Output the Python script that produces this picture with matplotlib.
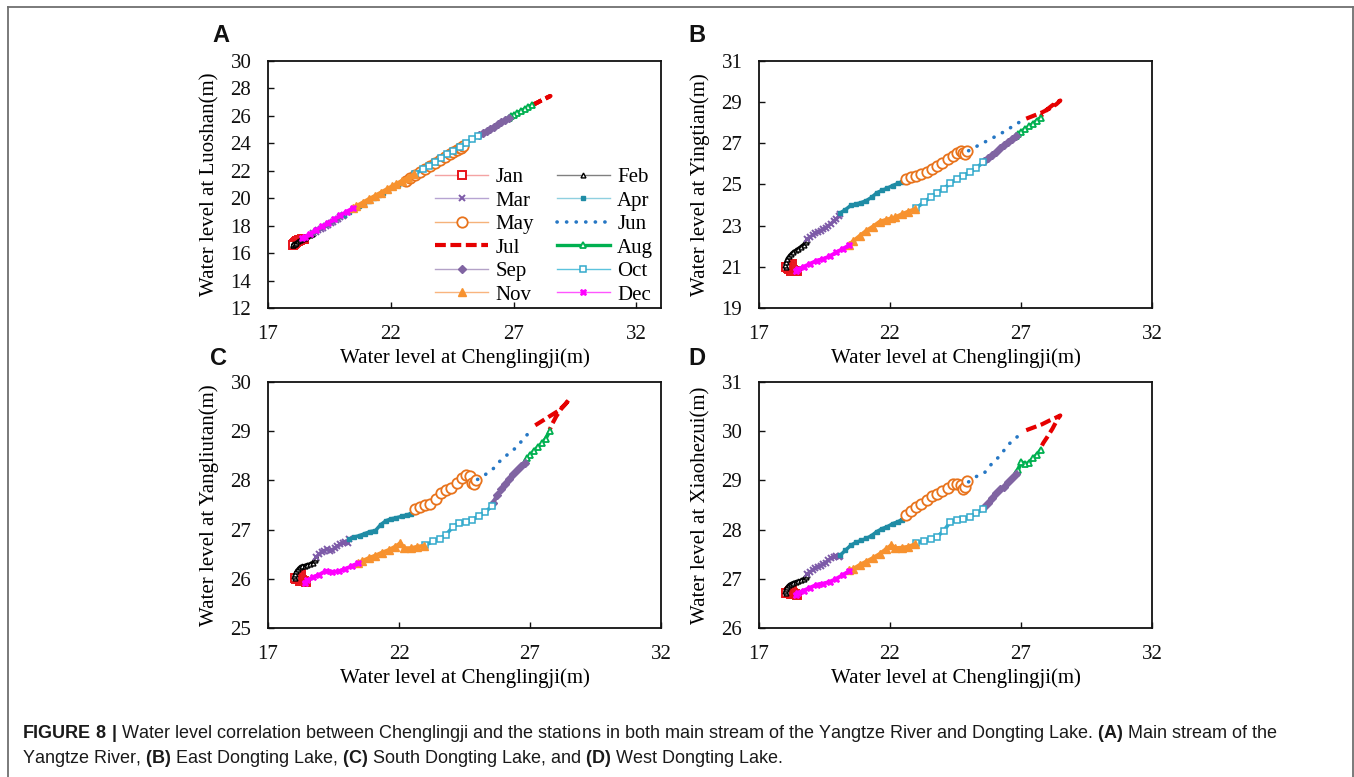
import matplotlib
matplotlib.use('Agg')
import matplotlib.pyplot as plt
from matplotlib.lines import Line2D

plt.rcParams['font.family'] = ['Liberation Serif', 'DejaVu Serif']
plt.rcParams['mathtext.fontset'] = 'custom'
plt.rcParams['mathtext.rm'] = 'Liberation Sans'
plt.rcParams['mathtext.bf'] = 'Liberation Sans:bold'

# ---------------- data ----------------
months = ['Jan', 'Feb', 'Mar', 'Apr', 'May', 'Jun', 'Jul', 'Aug', 'Sep', 'Oct', 'Nov', 'Dec']

# Water level at Chenglingji (x), one list per month
chenglingji = [
    [18.45, 18.38, 18.30, 18.22, 18.15, 18.20, 18.25, 18.18, 18.10, 18.05, 18.02],                       # Jan
    [18.02, 18.00, 18.03, 18.08, 18.15, 18.22, 18.30, 18.40, 18.50, 18.60, 18.70, 18.78, 18.85],         # Feb
    [18.85, 18.95, 19.05, 19.15, 19.25, 19.35, 19.45, 19.55, 19.65, 19.75, 19.85, 19.95, 20.05, 20.10],  # Mar
    [20.10, 20.30, 20.50, 20.70, 20.90, 21.10, 21.30, 21.50, 21.70, 21.90, 22.10, 22.30, 22.45, 22.55],  # Apr
    [22.60, 22.80, 23.00, 23.20, 23.40, 23.60, 23.80, 24.00, 24.20, 24.40, 24.55, 24.70, 24.80, 24.85, 24.95],  # May
    [25.00, 25.30, 25.60, 25.90, 26.20, 26.50, 26.80, 27.10],                                            # Jun
    [27.20, 27.50, 27.80, 28.10, 28.35, 28.50, 28.40, 28.20, 28.00, 27.85, 27.75],                       # Jul
    [27.75, 27.60, 27.45, 27.30, 27.15, 27.00, 26.90, 26.80],                                            # Aug
    [26.80, 26.65, 26.50, 26.35, 26.20, 26.05, 25.90, 25.75, 25.60],                                     # Sep
    [25.55, 25.30, 25.05, 24.80, 24.55, 24.30, 24.05, 23.80, 23.55, 23.30, 23.00],                       # Oct
    [22.95, 22.70, 22.45, 22.20, 22.05, 21.85, 21.60, 21.35, 21.10, 20.85, 20.60, 20.45],                # Nov
    [20.45, 20.20, 19.95, 19.70, 19.45, 19.20, 18.95, 18.70, 18.50, 18.40],                              # Dec
]

# (A) Luoshan
luoshan = [
    [17.05, 17.00, 16.95, 16.88, 16.82, 16.88, 16.95, 16.85, 16.75, 16.68, 16.62],
    [16.58, 16.60, 16.64, 16.70, 16.77, 16.85, 16.93, 17.02, 17.12, 17.22, 17.32, 17.40, 17.48],
    [17.45, 17.55, 17.65, 17.76, 17.86, 17.97, 18.08, 18.18, 18.29, 18.40, 18.50, 18.61, 18.72, 18.77],
    [18.78, 19.00, 19.21, 19.40, 19.60, 19.80, 20.00, 20.20, 20.40, 20.60, 20.79, 20.99, 21.14, 21.24],
    [21.28, 21.48, 21.68, 21.89, 22.11, 22.33, 22.55, 22.76, 22.98, 23.20, 23.36, 23.52, 23.63, 23.69, 23.79],
    [23.90, 24.22, 24.55, 24.86, 25.18, 25.49, 25.80, 26.10],
    [26.20, 26.50, 26.80, 27.10, 27.30, 27.45, 27.38, 27.20, 27.00, 26.88, 26.78],
    [26.80, 26.65, 26.50, 26.36, 26.21, 26.07, 25.97, 25.87],
    [25.85, 25.69, 25.54, 25.38, 25.22, 25.07, 24.91, 24.76, 24.60],
    [24.55, 24.28, 24.00, 23.73, 23.46, 23.19, 22.92, 22.65, 22.38, 22.11, 21.78],
    [21.75, 21.50, 21.26, 21.01, 20.86, 20.66, 20.41, 20.16, 19.92, 19.67, 19.42, 19.27],
    [19.27, 19.02, 18.75, 18.48, 18.21, 17.94, 17.67, 17.40, 17.18, 17.07],
]

# (B) Yingtian
yingtian = [
    [20.78, 20.80, 20.85, 20.82, 20.90, 21.00, 21.15, 21.05, 20.95, 21.00, 20.98],
    [21.00, 21.10, 21.25, 21.40, 21.52, 21.62, 21.72, 21.80, 21.88, 21.98, 22.08, 22.20, 22.32],
    [22.35, 22.45, 22.55, 22.62, 22.70, 22.75, 22.82, 22.90, 23.00, 23.10, 23.22, 23.32, 23.45, 23.58],
    [23.62, 23.78, 23.98, 24.05, 24.12, 24.22, 24.38, 24.60, 24.72, 24.82, 24.95, 25.05, 25.12, 25.20],
    [25.28, 25.35, 25.42, 25.50, 25.60, 25.75, 25.90, 26.05, 26.22, 26.40, 26.55, 26.65, 26.55, 26.50, 26.62],
    [26.64, 26.85, 27.05, 27.25, 27.45, 27.68, 27.92, 28.15],
    [28.20, 28.35, 28.50, 28.70, 28.90, 29.08, 29.00, 28.85, 28.65, 28.45, 28.30],
    [28.25, 28.10, 27.95, 27.82, 27.70, 27.55, 27.45, 27.35],
    [27.35, 27.20, 27.05, 26.90, 26.75, 26.60, 26.45, 26.28, 26.12],
    [26.08, 25.80, 25.60, 25.42, 25.28, 25.05, 24.80, 24.60, 24.38, 24.15, 23.85],
    [23.80, 23.68, 23.55, 23.40, 23.35, 23.28, 23.18, 22.95, 22.75, 22.50, 22.25, 22.08],
    [22.05, 21.88, 21.70, 21.52, 21.38, 21.30, 21.15, 21.00, 20.88, 20.82],
]

# (C) Yangliutan
yangliutan = [
    [25.93, 25.95, 25.98, 25.96, 26.00, 26.05, 26.10, 26.05, 26.02, 26.00, 26.02],
    [26.02, 26.06, 26.10, 26.15, 26.20, 26.24, 26.26, 26.27, 26.29, 26.30, 26.33, 26.38, 26.43],
    [26.45, 26.50, 26.55, 26.57, 26.60, 26.56, 26.58, 26.62, 26.66, 26.70, 26.72, 26.75, 26.73, 26.80],
    [26.80, 26.85, 26.88, 26.92, 26.96, 26.98, 27.10, 27.18, 27.22, 27.24, 27.27, 27.30, 27.32, 27.36],
    [27.42, 27.45, 27.50, 27.53, 27.62, 27.75, 27.80, 27.85, 27.95, 28.05, 28.10, 28.08, 27.95, 27.92, 28.00],
    [28.02, 28.12, 28.24, 28.42, 28.55, 28.68, 28.88, 29.04],
    [29.12, 29.22, 29.32, 29.42, 29.55, 29.65, 29.58, 29.46, 29.30, 29.15, 29.03],
    [29.00, 28.85, 28.75, 28.68, 28.60, 28.52, 28.45, 28.37],
    [28.35, 28.30, 28.22, 28.12, 28.02, 27.93, 27.82, 27.70, 27.55],
    [27.48, 27.36, 27.28, 27.20, 27.15, 27.14, 27.05, 26.90, 26.80, 26.76, 26.68],
    [26.67, 26.65, 26.62, 26.62, 26.72, 26.65, 26.58, 26.53, 26.47, 26.42, 26.36, 26.32],
    [26.32, 26.26, 26.20, 26.15, 26.14, 26.16, 26.08, 26.03, 25.97, 25.92],
]

# (D) Xiaohezui
xiaohezui = [
    [26.68, 26.70, 26.72, 26.70, 26.74, 26.76, 26.80, 26.75, 26.72, 26.72, 26.71],
    [26.72, 26.76, 26.80, 26.84, 26.88, 26.90, 26.92, 26.94, 26.95, 26.97, 27.00, 27.04, 27.08],
    [27.10, 27.14, 27.18, 27.22, 27.25, 27.27, 27.30, 27.33, 27.38, 27.42, 27.45, 27.47, 27.45, 27.46],
    [27.48, 27.58, 27.68, 27.74, 27.78, 27.82, 27.88, 27.96, 28.02, 28.06, 28.12, 28.16, 28.20, 28.26],
    [28.30, 28.38, 28.46, 28.52, 28.60, 28.68, 28.72, 28.78, 28.85, 28.92, 28.93, 28.90, 28.83, 28.86, 28.98],
    [28.97, 29.08, 29.15, 29.35, 29.50, 29.72, 29.86, 30.00],
    [30.02, 30.08, 30.14, 30.22, 30.28, 30.32, 30.25, 30.05, 29.88, 29.76, 29.66],
    [29.62, 29.52, 29.45, 29.36, 29.33, 29.38, 29.22, 29.15],
    [29.12, 29.05, 28.97, 28.87, 28.82, 28.75, 28.64, 28.55, 28.45],
    [28.42, 28.33, 28.26, 28.22, 28.20, 28.15, 27.98, 27.85, 27.80, 27.77, 27.73],
    [27.70, 27.65, 27.63, 27.62, 27.68, 27.60, 27.50, 27.42, 27.35, 27.28, 27.20, 27.17],
    [27.16, 27.08, 27.00, 26.94, 26.90, 26.88, 26.82, 26.76, 26.72, 26.68],
]

station_data = [luoshan, yingtian, yangliutan, xiaohezui]
panel_letters = ['A', 'B', 'C', 'D']
y_labels = ['Water level at Luoshan(m)', 'Water level at Yingtian(m)',
            'Water level at Yangliutan(m)', 'Water level at Xiaohezui(m)']
x_label = 'Water level at Chenglingji(m)'
x_ticks = [17, 22, 27, 32]
x_limits = [(17, 33), (17, 32), (17, 32), (17, 32)]
y_ticks = [[12, 14, 16, 18, 20, 22, 24, 26, 28, 30],
           [19, 21, 23, 25, 27, 29, 31],
           [25, 26, 27, 28, 29, 30],
           [26, 27, 28, 29, 30, 31]]

caption_line1 = (r"$\mathbf{FIGURE\ 8\ |}$ Water level correlation between Chenglingji and the stations in both main "
                 r"stream of the Yangtze River and Dongting Lake. $\mathbf{(A)}$ Main stream of the")
caption_line2 = (r"Yangtze River, $\mathbf{(B)}$ East Dongting Lake, $\mathbf{(C)}$ South Dongting Lake, and "
                 r"$\mathbf{(D)}$ West Dongting Lake.")

# ---------------- styles ----------------
styles = {
    'Jan': dict(color='#E8141B', legc='#F4A3A3', lw=1.0, dlw=1.5, marker='s', ms=6, mfc='white', mew=1.4),
    'Feb': dict(color='#000000', legc='#808080', lw=1.0, dlw=2.5, marker='^', ms=3.5, mfc='white', mew=1.0),
    'Mar': dict(color='#7D5AA8', legc='#B7A4D2', lw=1.0, dlw=2.5, marker='x', ms=5, mfc='#7D5AA8', mew=1.4),
    'Apr': dict(color='#1F8CA5', legc='#8FD0E0', lw=1.0, dlw=2.5, marker='s', ms=3.2, mfc='#1F8CA5', mew=1.0),
    'May': dict(color='#E8731C', legc='#F5B27A', lw=1.0, dlw=1.5, marker='o', ms=7.5, mfc='white', mew=1.3),
    'Jun': dict(color='#2677C4', legc='#2677C4', lw=2.6, dlw=2.6, marker='None', ms=0, mfc='none', mew=0,
                ls=(0, (0.05, 2.6))),
    'Jul': dict(color='#E60000', legc='#E60000', lw=3.0, dlw=3.0, marker='None', ms=0, mfc='none', mew=0,
                ls=(0, (2.6, 1.1))),
    'Aug': dict(color='#00B050', legc='#00B050', lw=2.4, dlw=2.8, marker='^', ms=5, mfc='white', mew=1.3),
    'Sep': dict(color='#8064A2', legc='#B3A2C7', lw=1.0, dlw=3.0, marker='D', ms=4.5, mfc='#8064A2', mew=1.0),
    'Oct': dict(color='#33AACC', legc='#5CC3DD', lw=1.0, dlw=2.6, marker='s', ms=5, mfc='white', mew=1.1),
    'Nov': dict(color='#F7922F', legc='#F9B47E', lw=1.0, dlw=3.0, marker='^', ms=6, mfc='#F7922F', mew=1.0),
    'Dec': dict(color='#FF00FF', legc='#FF55FF', lw=1.0, dlw=2.8, marker='X', ms=4.5, mfc='#FF00FF', mew=0.6),
}

W, H = 1354, 777
fig = plt.figure(figsize=(W / 100, H / 100), dpi=100)

# axes boxes in pixels: left, top, right, bottom
boxes = [(268, 61, 661, 308), (759, 61, 1152, 308), (268, 382, 661, 628), (759, 382, 1152, 628)]

TICK_FS = 15
for i, (l, t, r, b) in enumerate(boxes):
    ax = fig.add_axes([l / W, 1 - b / H, (r - l) / W, (b - t) / H])
    ys_all = station_data[i]
    for m, name in enumerate(months):
        st = styles[name]
        ax.plot(chenglingji[m], ys_all[m], color=st['color'], lw=st['dlw'], ls=st.get('ls', '-'),
                marker=st['marker'], ms=st['ms'], mec=st['color'], mfc=st['mfc'], mew=st['mew'],
                dash_capstyle='round' if name == 'Jun' else 'butt',
                solid_joinstyle='round', zorder=2 + m * 0.01)
    ax.set_xlim(*x_limits[i])
    ax.set_ylim(y_ticks[i][0], y_ticks[i][-1])
    ax.set_xticks(x_ticks)
    ax.set_yticks(y_ticks[i])
    ax.tick_params(direction='in', length=4, width=1.0, labelsize=TICK_FS, colors='#111111')
    ax.tick_params(axis='x', pad=12)
    ax.tick_params(axis='y', pad=12)
    for sp in ax.spines.values():
        sp.set_linewidth(1.3)
        sp.set_color('#111111')
    ax.set_xlabel(x_label, fontsize=15)
    ax.set_ylabel(y_labels[i], fontsize=15)
    ax.xaxis.set_label_coords(0.5, -0.162)
    ax.yaxis.set_label_coords(-0.124, 0.5)

    if i == 0:
        handles = []
        for name in months:
            st = styles[name]
            handles.append(Line2D([], [], color=st['legc'], lw=st['lw'], ls=st.get('ls', '-'),
                                  marker=st['marker'], ms=st['ms'], mec=st['color'], mfc=st['mfc'],
                                  mew=st['mew'],
                                  dash_capstyle='round' if name == 'Jun' else 'butt'))
        order = [0, 2, 4, 6, 8, 10, 1, 3, 5, 7, 9, 11]
        ax.legend([handles[k] for k in order], [months[k] for k in order], ncol=2,
                  loc='upper left', bbox_to_anchor=(0.425, 0.569), frameon=False, fontsize=15,
                  handlelength=2.55, handletextpad=0.35, columnspacing=1.1, labelspacing=0.19,
                  borderpad=0, borderaxespad=0, numpoints=1)

# panel letters
letter_pos = [(212, 42), (688, 42), (210, 365), (688, 365)]
for letter, (px, py) in zip(panel_letters, letter_pos):
    fig.text(px / W, 1 - py / H, letter, fontsize=17, fontweight='bold',
             family='Liberation Sans', va='baseline', ha='left', color='#111111')

# outer frame (left, top, right)
fc = '#707070'
fig.add_artist(Line2D([8 / W, 8 / W], [0, 1 - 6.5 / H], transform=fig.transFigure, color=fc, lw=1.3))
fig.add_artist(Line2D([8 / W, 1352.5 / W], [1 - 6.5 / H, 1 - 6.5 / H], transform=fig.transFigure, color=fc, lw=1.3))
fig.add_artist(Line2D([1352.5 / W, 1352.5 / W], [0, 1 - 6.5 / H], transform=fig.transFigure, color=fc, lw=1.3))

# caption
fig.text(22 / W, 1 - 738 / H, caption_line1, fontsize=13.0, family='Liberation Sans',
         va='baseline', ha='left', color='#1A1A1A')
fig.text(22 / W, 1 - 763 / H, caption_line2, fontsize=13.0, family='Liberation Sans',
         va='baseline', ha='left', color='#1A1A1A')

fig.savefig('out.png', dpi=100)
